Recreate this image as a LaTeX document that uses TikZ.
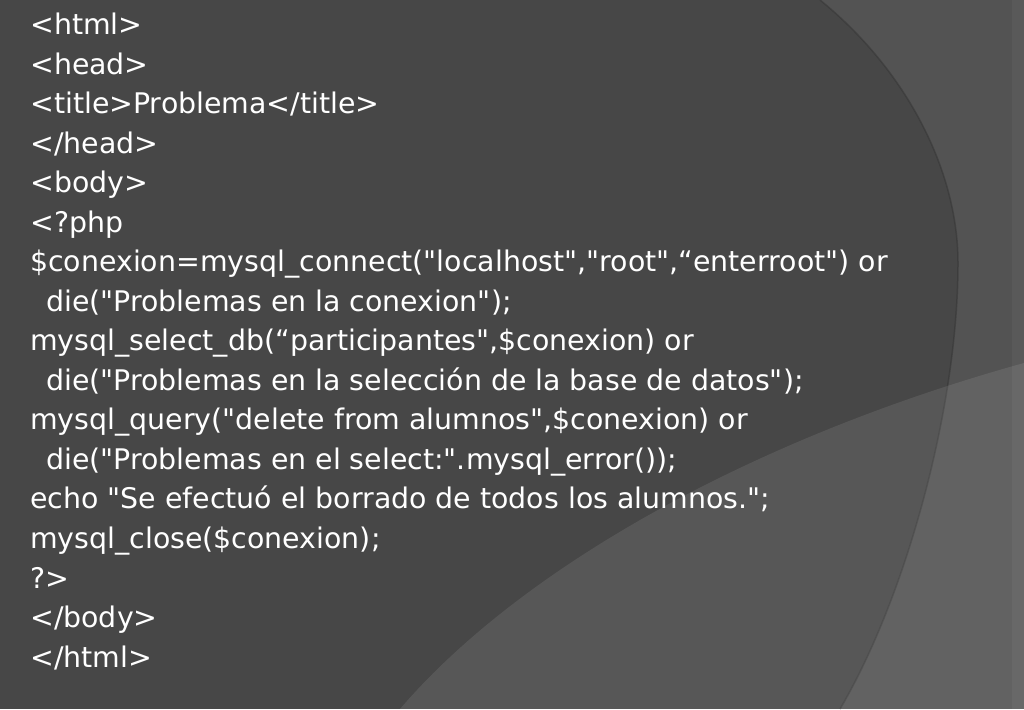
\documentclass[tikz,border=0pt]{standalone}
\usepackage{fontspec}
\setmainfont{DejaVu Sans}[Ligatures=TeXOff]
\newcommand\qq{\symbol{34}}
\begin{document}
\begin{tikzpicture}[x=1pt,y=1pt,
  code/.style={anchor=base west,inner sep=0pt,text=white,font=\fontsize{28.4}{32}\selectfont}]
\useasboundingbox (0,0) rectangle (1024,709);
\fill[black!72] (0,0) rectangle (1024,709);
% right region beyond the circle
\fill[white,opacity=0.07] (820,709) .. controls (905,640) and (958,540) .. (958,446) .. controls (958,300) and (905,110) .. (840,0) -- (1024,0) -- (1024,709) -- cycle;
\draw[black!80,opacity=0.5,line width=1.5pt] (820,709) .. controls (905,640) and (958,540) .. (958,446) .. controls (958,300) and (905,110) .. (840,0);
% bottom band
\fill[white,opacity=0.09] (400,0) .. controls (520,140) and (750,270) .. (1024,346) -- (1024,0) -- cycle;
% right strip
\fill[white,opacity=0.04] (1012,0) rectangle (1024,709);
\node[code] (l1) at (30,674) {<html>};
\node[code] (l2) at (30,634.5) {<head>};
\node[code] (l3) at (30,595) {<title>Problema</title>};
\node[code] (l4) at (30,555.5) {</head>};
\node[code] (l5) at (30,516) {<body>};
\node[code] (l6) at (30,476.5) {<?php};
\node[code] (l7) at (30,437) {\$conexion=mysql\_connect(\qq localhost\qq,\qq root\qq,“enterroot\qq) or};
\node[code] (l8) at (46,397.5) {die(\qq Problemas en la conexion\qq);};
\node[code] (l9) at (30,358) {mysql\_select\_db(“participantes\qq,\$conexion) or};
\node[code] (l10) at (46,318.5) {die(\qq Problemas en la selección de la base de datos\qq);};
\node[code] (l11) at (30,279) {mysql\_query(\qq delete from alumnos\qq,\$conexion) or};
\node[code] (l12) at (46,239.5) {die(\qq Problemas en el select:\qq.mysql\_error());};
\node[code] (l13) at (30,200) {echo \qq Se efectuó el borrado de todos los alumnos.\qq;};
\node[code] (l14) at (30,160.5) {mysql\_close(\$conexion);};
\node[code] (l15) at (30,121) {?>};
\node[code] (l16) at (30,81.5) {</body>};
\node[code] (l17) at (30,42) {</html>};
\end{tikzpicture}
\end{document}
